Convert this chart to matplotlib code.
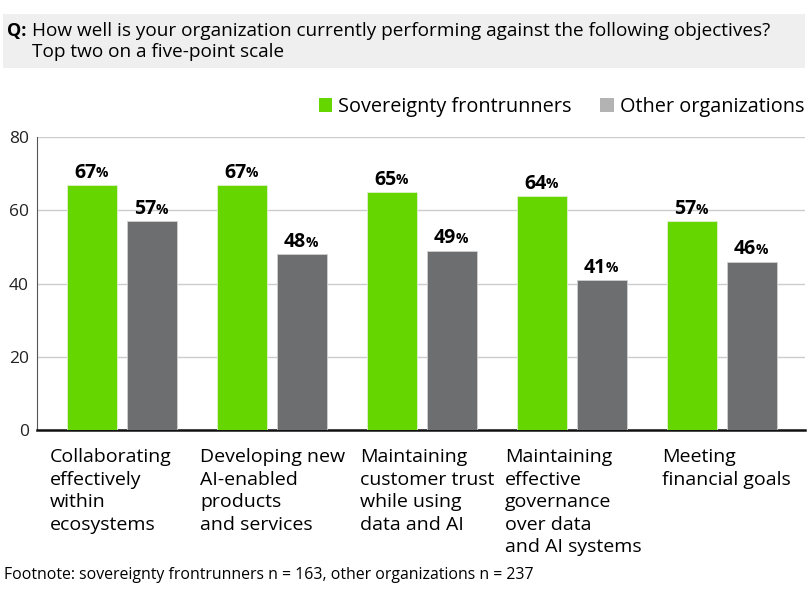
import matplotlib
matplotlib.use("Agg")
import matplotlib.pyplot as plt
from matplotlib.patches import Rectangle, Patch

plt.rcParams['font.family'] = ['Open Sans', 'DejaVu Sans']

categories = [
    "Collaborating\neffectively\nwithin\necosystems",
    "Developing new\nAI-enabled\nproducts\nand services",
    "Maintaining\ncustomer trust\nwhile using\ndata and AI",
    "Maintaining\neffective\ngovernance\nover data\nand AI systems",
    "Meeting\nfinancial goals",
]
frontrunners = [67, 67, 65, 64, 57]
others = [57, 48, 49, 41, 46]
series_names = ["Sovereignty frontrunners", "Other organizations"]
yticks = [0, 20, 40, 60, 80]

GREEN = "#66d600"
GRAY = "#6d6e70"
GRAY_LEG = "#b3b3b3"

fig = plt.figure(figsize=(8.09, 5.90), dpi=100)
W, H = 809, 590

def px(x0, y0, x1, y1):
    return [x0 / W, 1 - y1 / H, (x1 - x0) / W, (y1 - y0) / H]

# Header band
fig.patches.append(Rectangle((3 / W, 1 - 68 / H), 802 / W, 54 / H,
                             transform=fig.transFigure, facecolor="#efefef",
                             edgecolor="none", zorder=0))
fig.text(7 / W, 1 - 31 / H, "Q:", fontsize=13, fontweight="bold",
         va="center", ha="left")
fig.text(32 / W, 1 - 31 / H, "How well is your organization currently performing against the following objectives?",
         fontsize=13.7, va="center", ha="left")
fig.text(32 / W, 1 - 52 / H, "Top two on a five-point scale",
         fontsize=13.7, va="center", ha="left")

ax = fig.add_axes(px(37, 137, 805, 430))
n = len(categories)
xs = list(range(n))
off = 0.2
bw = 0.333
ax.bar([x - off for x in xs], frontrunners, width=bw, color=GREEN,
       edgecolor="#e0f0d0", linewidth=0.6, zorder=3)
ax.bar([x + off for x in xs], others, width=bw, color=GRAY,
       edgecolor="#d0d0d0", linewidth=0.6, zorder=3)

ax.set_xlim(-0.567, 4.553)
ax.set_ylim(0, 80)
ax.set_yticks(yticks)
ax.set_yticklabels([str(v) for v in yticks], fontsize=12.5, color="#222222")
ax.tick_params(axis="y", length=0, pad=6)
ax.set_xticks([])
ax.grid(axis="y", color="#cccccc", linewidth=1, zorder=0)
for s in ["top", "right"]:
    ax.spines[s].set_visible(False)
ax.spines["left"].set_color("#555555")
ax.spines["left"].set_linewidth(0.8)
ax.spines["bottom"].set_color("#111111")
ax.spines["bottom"].set_linewidth(1.8)

# value labels
fig.canvas.draw()
for vals, sign in ((frontrunners, -1), (others, 1)):
    for x, v in zip(xs, vals):
        t = ax.annotate(str(v), xy=(x + sign * off, v), xytext=(3, 1.5),
                        textcoords="offset points", ha="right", va="bottom",
                        fontsize=14, fontweight="bold", zorder=5)
        ax.annotate("%", xy=(1, 0.12), xycoords=t, xytext=(-0.5, 0),
                    textcoords="offset points", ha="left", va="bottom",
                    fontsize=10, fontweight="bold", zorder=5)

# category labels
label_px = [50, 200, 360, 505, 662]
for lx, lab in zip(label_px, categories):
    fig.text(lx / W, 1 - 448 / H, lab, fontsize=14, ha="left", va="top",
             linespacing=1.33)

# legend
handles = [Patch(facecolor=GREEN, edgecolor="none"),
           Patch(facecolor=GRAY_LEG, edgecolor="none")]
fig.legend(handles, series_names, loc="center right",
           bbox_to_anchor=(812 / W, 1 - 107 / H), ncol=2, frameon=False,
           fontsize=14.3, handlelength=0.7, handleheight=0.7, handletextpad=0.3,
           columnspacing=1.4, borderaxespad=0)

fig.text(4 / W, 1 - 575 / H,
         "Footnote: sovereignty frontrunners n = 163, other organizations n = 237",
         fontsize=11.4, ha="left", va="center")

fig.savefig("out.png", dpi=100)
